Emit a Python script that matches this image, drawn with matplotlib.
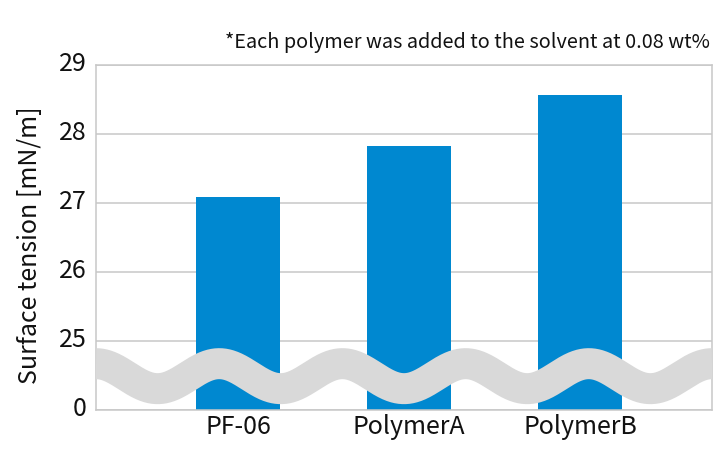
import numpy as np
import matplotlib
matplotlib.use("Agg")
import matplotlib.pyplot as plt
import matplotlib.transforms as mtransforms

categories = ["PF-06", "PolymerA", "PolymerB"]
values = [27.08, 27.83, 28.56]
ytick_values = [24, 25, 26, 27, 28, 29]
ytick_labels = ["0", "25", "26", "27", "28", "29"]
note = "*Each polymer was added to the solvent at 0.08 wt%"
ylabel = "Surface tension [mN/m]"

plt.rcParams['font.family'] = ['Noto Sans CJK JP', 'DejaVu Sans']

W, H = 726, 450
fig = plt.figure(figsize=(W / 100, H / 100), dpi=100)
ax = fig.add_axes([96 / W, 1 - 410 / H, (712 - 96) / W, (410 - 64.7) / H])

bar_color = "#0088D0"
grid_color = "#c8c8c8"
base = ytick_values[0]

x = np.arange(len(categories))
ax.bar(x, np.array(values) - base, bottom=base, width=0.49, color=bar_color, zorder=2)

ax.set_xlim(-0.83, 2.772)
ax.set_ylim(ytick_values[0], ytick_values[-1])
ax.set_yticks(ytick_values)
ax.set_yticklabels(ytick_labels)
ax.set_xticks(x)
ax.set_xticklabels(categories)
ax.tick_params(axis='both', length=0, labelsize=18, colors='#111111')
ax.tick_params(axis='y', pad=6.5)
ax.tick_params(axis='x', pad=3)

offset = mtransforms.ScaledTranslation(0, 3 / 72, fig.dpi_scale_trans)
for lab in ax.get_yticklabels():
    lab.set_transform(lab.get_transform() + offset)

ax.yaxis.grid(True, color=grid_color, linewidth=1.1, zorder=0)
ax.set_axisbelow(True)
for sp in ax.spines.values():
    sp.set_color(grid_color)
    sp.set_linewidth(1.1)

# wavy axis-break band drawn as a thick stroked sine curve
t = np.linspace(0, 1, 1200)
center = 24.49 + 0.181 * np.cos(2 * np.pi * 5 * t)
trans = mtransforms.blended_transform_factory(ax.transAxes, ax.transData)
ax.plot(t, center, color="#d9d9d9", linewidth=22.3, solid_capstyle='butt',
        solid_joinstyle='round', transform=trans, zorder=3)

fig.text(710 / W, 1 - 48.3 / H, note, ha='right', va='baseline', fontsize=14.3, color='#111111')
fig.text(30 / W, 1 - 245 / H, ylabel, rotation=90, ha='center', va='center', fontsize=18, color='#111111')

fig.savefig("out.png", dpi=100)
